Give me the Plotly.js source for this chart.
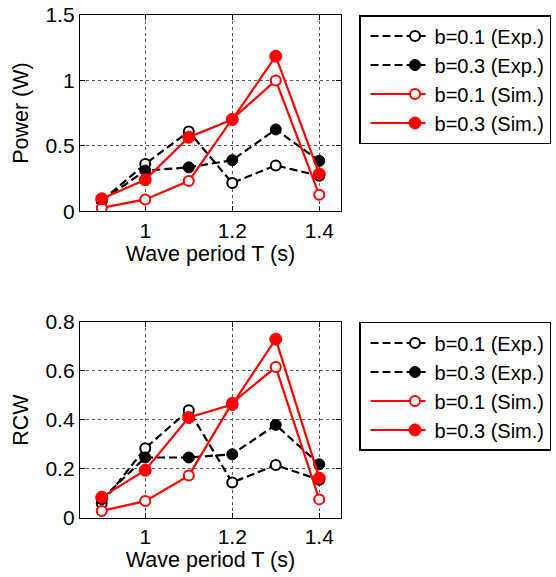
<!DOCTYPE html>
<html><head><meta charset="utf-8">
<script src="https://cdn.plot.ly/plotly-3.0.1.min.js"></script>
<style>html,body{margin:0;padding:0;background:#fff}#c{width:556px;height:577px}</style>
</head><body><div id="c"></div>
<script>
const T = [0.9, 1.0, 1.1, 1.2, 1.3, 1.4];
const names = ["b=0.1 (Exp.)", "b=0.3 (Exp.)", "b=0.1 (Sim.)", "b=0.3 (Sim.)"];
const powerExp01 = [0.08, 0.36, 0.61, 0.215, 0.35, 0.27];
const powerExp03 = [0.08, 0.31, 0.335, 0.39, 0.625, 0.385];
const powerSim01 = [0.025, 0.09, 0.23, 0.705, 1.0, 0.125];
const powerSim03 = [0.095, 0.24, 0.565, 0.70, 1.185, 0.285];
const rcwExp01 = [0.06, 0.285, 0.44, 0.145, 0.216, 0.156];
const rcwExp03 = [0.077, 0.247, 0.247, 0.26, 0.38, 0.219];
const rcwSim01 = [0.029, 0.069, 0.173, 0.47, 0.616, 0.076];
const rcwSim03 = [0.085, 0.195, 0.41, 0.463, 0.73, 0.163];
const xTicks = [1, 1.2, 1.4];
const powerTicks = [0, 0.5, 1, 1.5];
const rcwTicks = [0, 0.2, 0.4, 0.6, 0.8];

const styles = [
  {line:{color:'#000', width:2.2, dash:'8px,4px'}, marker:{symbol:'circle', size:10, color:'#fff', line:{color:'#000', width:2}}},
  {line:{color:'#000', width:2.2, dash:'8px,4px'}, marker:{symbol:'circle', size:11, color:'#000', line:{color:'#000', width:1}}},
  {line:{color:'#ff0000', width:2.2}, marker:{symbol:'circle', size:10, color:'#fff', line:{color:'#ff0000', width:2}}},
  {line:{color:'#ff0000', width:2.2}, marker:{symbol:'circle', size:12, color:'#ff0000', line:{color:'#ff0000', width:1}}}
];
function mk(y, i, xa, ya, lg){
  return {x:T, y:y, name:names[i], mode:'lines+markers', type:'scatter', xaxis:xa, yaxis:ya, legend:lg,
    line:styles[i].line, marker:styles[i].marker};
}
const data = [
  mk(powerExp01,0,'x','y','legend'), mk(powerExp03,1,'x','y','legend'),
  mk(powerSim01,2,'x','y','legend'), mk(powerSim03,3,'x','y','legend'),
  mk(rcwExp01,0,'x2','y2','legend2'), mk(rcwExp03,1,'x2','y2','legend2'),
  mk(rcwSim01,2,'x2','y2','legend2'), mk(rcwSim03,3,'x2','y2','legend2')
];
const fontF = 'Liberation Sans, Arial, sans-serif';
function xa(anchor){
  return {anchor:anchor, range:[0.85,1.45], tickvals:xTicks, ticktext:xTicks.map(String),
    showline:true, mirror:'ticks', linecolor:'#000', linewidth:1.2, ticks:'inside', ticklen:5, tickcolor:'#000',
    showgrid:true, gridcolor:'#555', griddash:'dot', gridwidth:1, zeroline:false,
    tickfont:{size:21, color:'#000'}, title:{text:'Wave period T (s)', font:{size:21.5, color:'#000'}, standoff:2}};
}
function ya(anchor, dom, rng, tv, title){
  return {anchor:anchor, domain:dom, range:rng, tickvals:tv, ticktext:tv.map(String),
    showline:true, mirror:'ticks', linecolor:'#000', linewidth:1.2, ticks:'inside', ticklen:5, tickcolor:'#000',
    showgrid:true, gridcolor:'#555', griddash:'dot', gridwidth:1, zeroline:false,
    tickfont:{size:21, color:'#000'}, title:{text:title, font:{size:21.5, color:'#000'}, standoff:10}};
}
const legendBase = {x:1.069, xanchor:'left', yanchor:'top', bgcolor:'#fff', bordercolor:'#000', borderwidth:1.5,
  font:{size:20, color:'#000', family:fontF}, tracegroupgap:0, itemwidth:64};
const layout = {
  width:556, height:577, margin:{l:80, r:215, t:15, b:59, autoexpand:false},
  paper_bgcolor:'#fff', plot_bgcolor:'#fff',
  font:{family:fontF, color:'#000'},
  xaxis:xa('y'), yaxis:ya('x',[0.610,1],[0,1.5],powerTicks,'Power (W)'),
  xaxis2:xa('y2'), yaxis2:ya('x2',[0,0.3897],[0,0.8],rcwTicks,'RCW'),
  legend:Object.assign({}, legendBase, {y:1}),
  legend2:Object.assign({}, legendBase, {y:0.3897}),
  showlegend:true
};
Plotly.newPlot('c', data, layout, {staticPlot:true}).then(function(gd){
  // widen the legend sample lines to match the reference's longer samples
  gd.querySelectorAll('.legendlines path').forEach(function(p){ p.setAttribute('d','M10,0h55'); });
  gd.querySelectorAll('.legendpoints').forEach(function(g){ g.setAttribute('transform','translate(17.5,0)'); });
});
</script></body></html>
